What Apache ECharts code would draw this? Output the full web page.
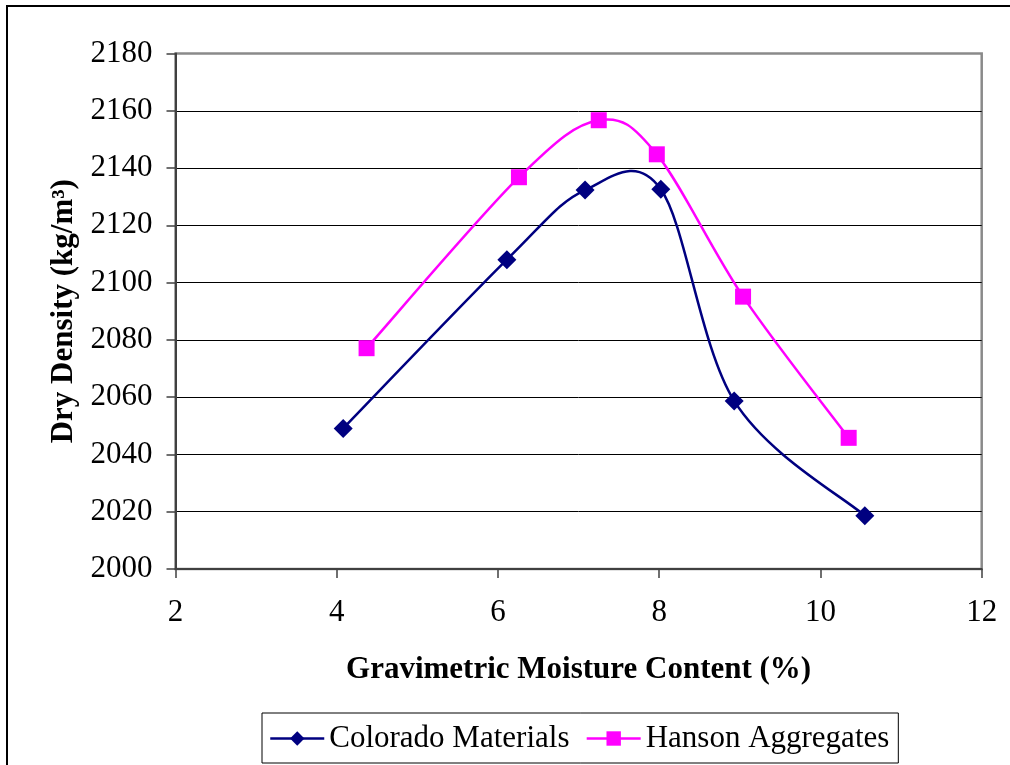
<!DOCTYPE html>
<html>
<head>
<meta charset="utf-8">
<script src="https://cdn.jsdelivr.net/npm/echarts@6/dist/echarts.min.js"></script>
<style>
html,body{margin:0;padding:0;background:#fff;}
#chart{width:1010px;height:765px;}
</style>
</head>
<body>
<div id="chart"></div>
<script>
// Data
const seriesNames = ['Colorado Materials', 'Hanson Aggregates'];
const coloradoMoisture = [4.08, 6.11, 7.08, 8.02, 8.93, 10.55];
const coloradoDensity  = [2049.1, 2108.0, 2132.3, 2132.6, 2058.7, 2018.6];
const hansonMoisture   = [4.37, 6.26, 7.25, 7.97, 9.04, 10.35];
const hansonDensity    = [2077.1, 2136.8, 2156.7, 2144.8, 2095.1, 2045.8];
const xAxisTitle = 'Gravimetric Moisture Content (%)';
const yAxisTitle = 'Dry Density (kg/m³)';
const colors = ['#000080', '#ff00ff'];

const FONT = "'Liberation Serif', 'Times New Roman', serif";
const FS = 31;
const pairs = (xs, ys) => xs.map((x, i) => [x, ys[i]]);
const coloradoData = pairs(coloradoMoisture, coloradoDensity);
const hansonData = pairs(hansonMoisture, hansonDensity);

// Excel-style smoothed curve (Catmull-Rom / Bezier, tension 1/6) through data points
function smoothCurve(data, color) {
  return function (params, api) {
    if (params.dataIndex !== 0) return null;
    const p = data.map(d => api.coord(d));
    const n = p.length;
    let d = 'M' + p[0][0] + ' ' + p[0][1];
    for (let i = 0; i < n - 1; i++) {
      const p0 = p[i - 1] || p[i];
      const p1 = p[i];
      const p2 = p[i + 1];
      const p3 = p[i + 2] || p[i + 1];
      const c1x = p1[0] + (p2[0] - p0[0]) / 6;
      const c1y = p1[1] + (p2[1] - p0[1]) / 6;
      const c2x = p2[0] - (p3[0] - p1[0]) / 6;
      const c2y = p2[1] - (p3[1] - p1[1]) / 6;
      d += ' C' + c1x + ' ' + c1y + ' ' + c2x + ' ' + c2y + ' ' + p2[0] + ' ' + p2[1];
    }
    return {
      type: 'path',
      shape: {pathData: d},
      style: {fill: 'none', stroke: color, lineWidth: 2.5}
    };
  };
}

const chart = echarts.init(document.getElementById('chart'), null, {renderer: 'canvas'});
chart.setOption({
  backgroundColor: '#ffffff',
  animation: false,
  textStyle: {fontFamily: FONT, color: '#000'},
  graphic: [{
    type: 'rect', z: 100, silent: true,
    shape: {x: 7, y: 6, width: 1030, height: 820},
    style: {fill: 'none', stroke: '#000', lineWidth: 2}
  }],
  grid: {
    left: 175.5, top: 53.5, right: 28.3, bottom: 196,
    show: true, borderColor: '#8a8a8a', borderWidth: 2.5, backgroundColor: 'transparent'
  },
  legend: {
    left: 262, top: 713,
    orient: 'horizontal',
    padding: [10, 9, 9, 7],
    itemGap: 16,
    itemWidth: 54, itemHeight: 18,
    borderColor: '#000', borderWidth: 1,
    textStyle: {fontFamily: FONT, fontSize: FS, color: '#000'},
    data: [
      {name: seriesNames[0], lineStyle: {color: colors[0], width: 2.5, opacity: 1}},
      {name: seriesNames[1], lineStyle: {color: colors[1], width: 2.5, opacity: 1}}
    ]
  },
  xAxis: {
    type: 'value', min: 2, max: 12, interval: 2,
    name: xAxisTitle, nameLocation: 'middle', nameGap: 85,
    nameTextStyle: {fontFamily: FONT, fontSize: FS, fontWeight: 'bold', color: '#000'},
    axisLine: {show: true, onZero: false, lineStyle: {color: '#404040', width: 2}},
    axisTick: {show: true, length: 9, lineStyle: {color: '#404040', width: 1.5}},
    axisLabel: {fontFamily: FONT, fontSize: FS, color: '#000', margin: 28},
    splitLine: {show: false}
  },
  yAxis: {
    type: 'value', min: 2000, max: 2180, interval: 20,
    name: yAxisTitle, nameLocation: 'middle', nameGap: 94,
    nameTextStyle: {fontFamily: FONT, fontSize: FS, fontWeight: 'bold', color: '#000'},
    axisLine: {show: true, onZero: false, lineStyle: {color: '#404040', width: 2}},
    axisTick: {show: true, length: 9, lineStyle: {color: '#404040', width: 1.5}},
    axisLabel: {fontFamily: FONT, fontSize: FS, color: '#000', margin: 23, formatter: v => String(v)},
    splitLine: {show: true, showMaxLine: false, showMinLine: false, lineStyle: {color: '#000', width: 1}}
  },
  series: [
    {
      type: 'custom', name: seriesNames[0] + ' curve', silent: true, z: 2,
      data: coloradoData, renderItem: smoothCurve(coloradoData, colors[0]),
      encode: {x: 0, y: 1}
    },
    {
      type: 'custom', name: seriesNames[1] + ' curve', silent: true, z: 1,
      data: hansonData, renderItem: smoothCurve(hansonData, colors[1]),
      encode: {x: 0, y: 1}
    },
    {
      name: seriesNames[0], type: 'line',
      data: coloradoData,
      symbol: 'diamond', symbolSize: 19,
      lineStyle: {color: colors[0], width: 2.5, opacity: 0},
      itemStyle: {color: colors[0]},
      z: 4
    },
    {
      name: seriesNames[1], type: 'line',
      data: hansonData,
      symbol: 'rect', symbolSize: 16,
      lineStyle: {color: colors[1], width: 2.5, opacity: 0},
      itemStyle: {color: colors[1]},
      z: 3
    }
  ]
});
</script>
</body>
</html>
